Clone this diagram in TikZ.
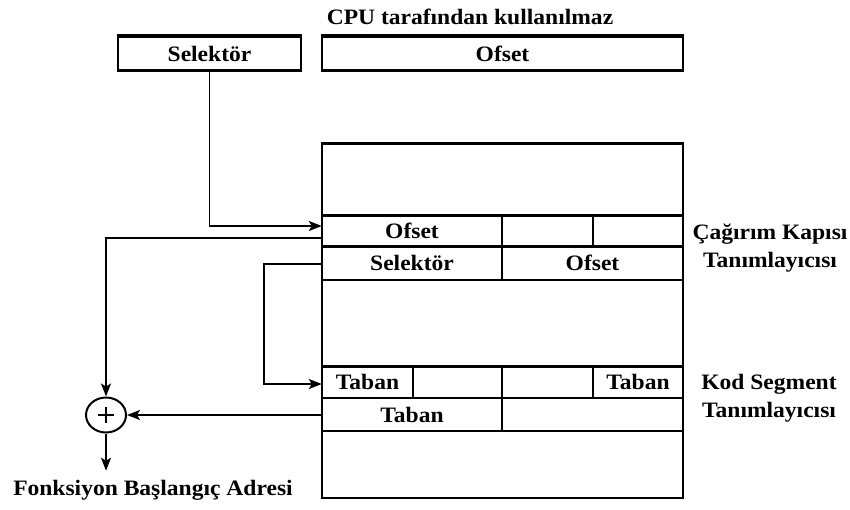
\documentclass[tikz,border=0pt]{standalone}
\usepackage{fontspec}
\setmainfont{Liberation Serif}[FakeStretch=1.07]
\usetikzlibrary{arrows.meta,shapes.geometric}
\begin{document}
\begin{tikzpicture}[x=1pt,y=-1pt,
  every node/.style={font=\fontsize{22}{28}\selectfont\bfseries, inner sep=0pt},
  topbox/.style={draw, line width=2.4pt, minimum height=34pt},
  cell/.style={minimum height=32pt},
  heavy/.style={line width=3pt},
  light/.style={line width=1.6pt},
  arr/.style={line width=1.6pt, -{Stealth[length=13pt,width=10pt,inset=3pt]}},
  adder/.style={draw, ellipse, line width=2pt, minimum width=40pt, minimum height=35pt}
]
\useasboundingbox (0,0) rectangle (850,509);

% selector:offset pointer
\node (cpu) at (470,17) {CPU tarafından kullanılmaz};
\node[topbox, minimum width=183pt] (sel) at (209.5,53.5) {Selektör};
\node[topbox, minimum width=361pt] (ofs) at (502.5,53.5) {Ofset};
\draw[heavy] (sel.north west) -- (sel.north east);
\draw[heavy] (ofs.north west) -- (ofs.north east);

% descriptor table
\draw[light] (322,143) rectangle (683,498);
\foreach \y in {143,215,246.5,366} \draw[heavy] (322,\y) -- (683,\y);
\foreach \y in {280,398,431} \draw[light] (322,\y) -- (683,\y);
\draw[light] (502,215) -- (502,280);
\draw[light] (593,215) -- (593,246.5);
\draw[light] (413,366) -- (413,398);
\draw[light] (502,366) -- (502,431);
\draw[light] (593,366) -- (593,398);

% cell texts
\node[cell, minimum width=180pt] (c1) at (412,230.5) {Ofset};
\node[cell, minimum width=180pt] (c2) at (412,263) {Selektör};
\node[cell, minimum width=181pt] (c2b) at (592.5,263) {Ofset};
\node[cell, minimum width=91pt] (c3) at (367.5,382) {Taban};
\node[cell, minimum width=90pt] (c3b) at (638,382) {Taban};
\node[cell, minimum width=180pt] (c4) at (412,415) {Taban};

% descriptor names
\node[align=center] (lab1) at (770,248) {Çağırım Kapısı\\Tanımlayıcısı};
\node[align=center] (lab2) at (769,398.5) {Kod Segment\\Tanımlayıcısı};

% adder and result
\node[adder] (add) at (106,415) {};
\draw[line width=2pt] ([xshift=-8pt]add.center) -- ([xshift=8pt]add.center)
                      ([yshift=-8pt]add.center) -- ([yshift=8pt]add.center);
\node (fon) at (153,490) {Fonksiyon Başlangıç Adresi};

% connectors
\draw[arr] (sel.south) |- ([yshift=4.5pt]c1.west);
\draw[arr] ([yshift=-7.5pt]c1.west) -| (add.north);
\draw[arr] ([yshift=-1pt]c2.west) -- ++(-58,0) |- ([yshift=-2pt]c3.west);
\draw[arr] (c4.west |- add.east) -- (add.east);
\draw[arr] (add.south) -- ([yshift=9pt]add.south |- fon.north);
\end{tikzpicture}
\end{document}
